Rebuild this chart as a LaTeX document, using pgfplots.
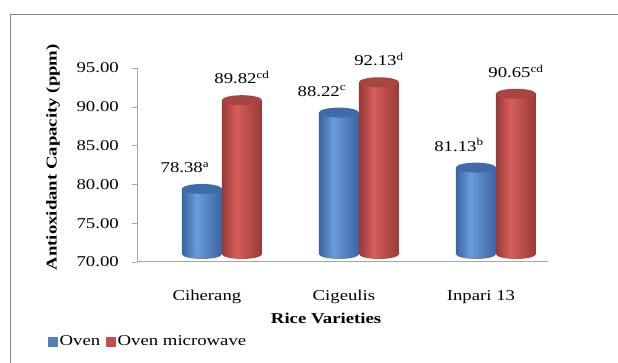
\documentclass[border=0pt]{standalone}
\usepackage{fontspec}
\setmainfont{Liberation Serif}[FakeStretch=1.25]
\usepackage{pgfplots}
\pgfplotsset{compat=1.18}
\definecolor{bll}{HTML}{6B9BD9}
\definecolor{bld}{HTML}{3A64A0}
\definecolor{blt}{HTML}{3F6CA9}
\definecolor{rdl}{HTML}{D65E5B}
\definecolor{rdd}{HTML}{983936}
\definecolor{rdt}{HTML}{A84542}
\definecolor{bl}{HTML}{4F81BD}
\definecolor{rd}{HTML}{C0504D}
\definecolor{axgray}{HTML}{A6A6A6}
\definecolor{framegray}{HTML}{868686}
\pgfdeclarehorizontalshading{bluecyl}{100bp}{color(0bp)=(bld); color(25bp)=(bld); color(43bp)=(bll); color(75bp)=(bld); color(100bp)=(bld)}
\pgfdeclarehorizontalshading{redcyl}{100bp}{color(0bp)=(rdd); color(25bp)=(rdd); color(43bp)=(rdl); color(75bp)=(rdd); color(100bp)=(rdd)}
\pgfdeclareplotmark{cyltop}{\pgfpathellipse{\pgfpointorigin}{\pgfqpoint{20pt}{0pt}}{\pgfqpoint{0pt}{5pt}}\pgfusepathqfill}
\pgfdeclareplotmark{cylbotb}{\pgfpathellipse{\pgfpointorigin}{\pgfqpoint{20pt}{0pt}}{\pgfqpoint{0pt}{5pt}}\pgfshadepath{bluecyl}{0}\pgfusepath{discard}}
\pgfdeclareplotmark{cylbotr}{\pgfpathellipse{\pgfpointorigin}{\pgfqpoint{20pt}{0pt}}{\pgfqpoint{0pt}{5pt}}\pgfshadepath{redcyl}{0}\pgfusepath{discard}}
\pgfplotsset{
  bluebar/.style={ybar, bar width=40pt, bar shift=-20pt, draw=none, shade, shading=bluecyl, yshift=8pt,
    nodes near coords, point meta=explicit symbolic,
    nodes near coords style={anchor=south, yshift=11pt, xshift=-37pt, text=black}, forget plot},
  redbar/.style={ybar, bar width=40pt, bar shift=20pt, draw=none, shade, shading=redcyl, yshift=8pt,
    nodes near coords, point meta=explicit symbolic,
    nodes near coords style={anchor=south, yshift=11pt, xshift=20pt, text=black}, forget plot},
}
\begin{document}
\fontsize{15}{18}\selectfont
\begin{tikzpicture}
\path[use as bounding box] (0,0) rectangle (618pt,363pt);
\draw[framegray, line width=1pt] (10pt,0) -- (10pt,348pt) -- (618pt,348pt);
\begin{axis}[
  at={(137pt,101pt)}, anchor=south west,
  scale only axis, width=411pt, height=194pt,
  xmin=-0.62, xmax=2.38, ymin=70, ymax=95,
  axis lines=left, axis line style={-, draw=axgray, line width=1pt},
  ytick={70,75,80,85,90,95},
  xtick={0,1,2}, xticklabels={Ciherang,Cigeulis,Inpari 13},
  x tick style={draw=none},
  y tick style={draw=axgray},
  tick align=outside, major tick length=5pt,
  /pgf/number format/assume math mode=true,
  yticklabel style={/pgf/number format/fixed, /pgf/number format/fixed zerofill, /pgf/number format/precision=2, xshift=-8pt},
  xticklabel style={xshift=-15pt, yshift=-18pt},
  ylabel={\bfseries Antioxidant Capacity (ppm)},
  ylabel style={at={(axis description cs:-0.204,0.54)}, anchor=center},
  xlabel={\bfseries Rice Varieties},
  xlabel style={at={(axis description cs:0.46,-0.289)}, anchor=center},
  legend style={at={(axis description cs:-0.2165,-0.412)}, anchor=west, draw=none, fill=none, inner sep=0pt, legend columns=2, /tikz/every even column/.style={column sep=4pt}},
  legend cell align=left,
  clip=false,
]
\addlegendimage{legend image code/.code={\fill[bl] (0pt,-4.5pt) rectangle (9pt,4.5pt);}}
\addlegendentry{Oven}
\addlegendimage{legend image code/.code={\fill[rd] (0pt,-4.5pt) rectangle (9pt,4.5pt);}}
\addlegendentry{Oven microwave}
% bottom caps
\addplot[only marks, mark=cylbotb, xshift=-20pt, yshift=8pt, forget plot] coordinates {(0,70) (1,70) (2,70)};
\addplot[only marks, mark=cylbotr, xshift=20pt, yshift=8pt, forget plot] coordinates {(0,70) (1,70) (2,70)};
% Oven microwave
\addplot[redbar] coordinates {(0,89.82) [89.82\textsuperscript{cd}]};
\addplot[redbar] coordinates {(1,92.13) [92.13\textsuperscript{d}]};
\addplot[redbar] coordinates {(2,90.65) [90.65\textsuperscript{cd}]};
\addplot[only marks, mark=cyltop, mark options={fill=rdt, draw=none}, xshift=20pt, yshift=8pt, forget plot]
  coordinates {(0,89.82) (1,92.13) (2,90.65)};
% Oven
\addplot[bluebar] coordinates {(0,78.38) [78.38\textsuperscript{a}]};
\addplot[bluebar] coordinates {(1,88.22) [88.22\textsuperscript{c}]};
\addplot[bluebar] coordinates {(2,81.13) [81.13\textsuperscript{b}]};
\addplot[only marks, mark=cyltop, mark options={fill=blt, draw=none}, xshift=-20pt, yshift=8pt, forget plot]
  coordinates {(0,78.38) (1,88.22) (2,81.13)};
\end{axis}
\end{tikzpicture}
\end{document}
